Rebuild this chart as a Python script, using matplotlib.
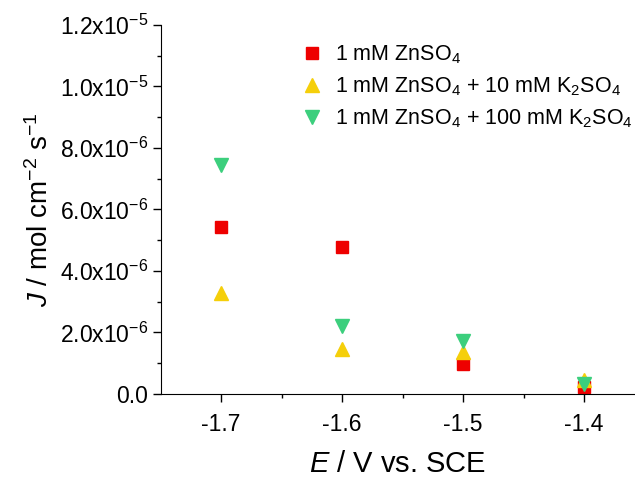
import matplotlib
matplotlib.use('Agg')
import matplotlib.pyplot as plt
from matplotlib.ticker import MultipleLocator, FixedLocator, FixedFormatter

plt.rcParams['font.family'] = ['Liberation Sans', 'DejaVu Sans']
plt.rcParams['mathtext.fontset'] = 'custom'
plt.rcParams['mathtext.rm'] = 'Liberation Sans'
plt.rcParams['mathtext.it'] = 'Liberation Sans:italic'
plt.rcParams['axes.unicode_minus'] = False

# data
potential = [-1.7, -1.6, -1.5, -1.4]
flux_zn = [5.43e-6, 4.79e-6, 0.98e-6, 0.24e-6]
flux_zn_k10 = [3.27e-6, 1.45e-6, 1.36e-6, 0.45e-6]
flux_zn_k100 = [7.45e-6, 2.20e-6, 1.73e-6, 0.33e-6]

labels = [r'1 mM ZnSO$_4$',
          r'1 mM ZnSO$_4$ + 10 mM K$_2$SO$_4$',
          r'1 mM ZnSO$_4$ + 100 mM K$_2$SO$_4$']

yticks = [0, 2e-6, 4e-6, 6e-6, 8e-6, 1e-5, 1.2e-5]
ytick_labels = ['0.0', r'2.0x10$^{-6}$', r'4.0x10$^{-6}$', r'6.0x10$^{-6}$',
                r'8.0x10$^{-6}$', r'1.0x10$^{-5}$', r'1.2x10$^{-5}$']

fig = plt.figure(figsize=(6.35, 4.79), dpi=100)
ax = fig.add_axes([0.2535, 0.1775, 0.7465, 0.7704])

ax.plot(potential, flux_zn, 's', color='#ee0000', markersize=8.5, label=labels[0])
ax.plot(potential, flux_zn_k10, '^', color='#f5cf0a', markersize=10, label=labels[1])
ax.plot(potential, flux_zn_k100, 'v', color='#3ccf7d', markersize=10, label=labels[2])

ax.set_xlim(-1.7496, -1.358)
ax.set_ylim(0, 1.2e-5)

ax.spines['top'].set_visible(False)
ax.spines['right'].set_visible(False)

ax.xaxis.set_major_locator(MultipleLocator(0.1))
ax.xaxis.set_minor_locator(MultipleLocator(0.05))
ax.yaxis.set_major_locator(FixedLocator(yticks))
ax.yaxis.set_major_formatter(FixedFormatter(ytick_labels))
ax.yaxis.set_minor_locator(MultipleLocator(1e-6))
ax.tick_params(which='major', direction='out', length=6, width=1, labelsize=16.5)
ax.tick_params(which='minor', direction='out', length=3, width=1)
ax.tick_params(axis='x', pad=8)
ax.tick_params(axis='y', pad=3)

ax.set_xlabel(r'$E$ / V vs. SCE', fontsize=21, labelpad=10)
ax.set_ylabel(r'$J$ / mol cm$^{-2}$ s$^{-1}$', fontsize=20, labelpad=4)

ax.legend(loc='upper left', bbox_to_anchor=(0.244, 1.003), frameon=False,
          fontsize=15.5, handletextpad=0.3, labelspacing=0.45, handlelength=1.5)

fig.savefig('out.png', dpi=100)
